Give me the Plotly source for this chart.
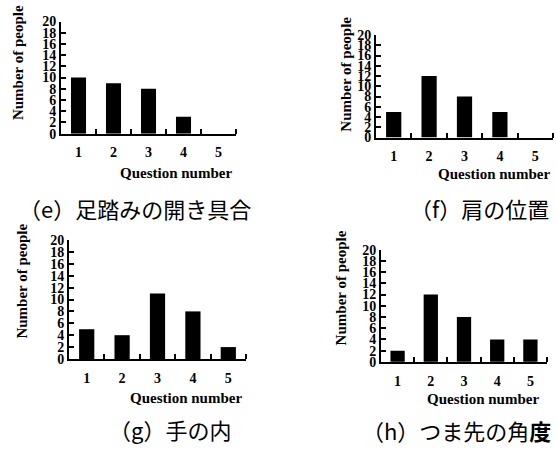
import plotly.graph_objects as go

W, H = 556, 454

questions = [1, 2, 3, 4, 5]
vals_e = [10, 9, 8, 3, 0]
vals_f = [5, 12, 8, 5, 0]
vals_g = [5, 4, 11, 8, 2]
vals_h = [2, 12, 8, 4, 4]
y_ticks = list(range(0, 21, 2))

captions = ["（e）足踏みの開き具合", "（f）肩の位置", "（g）手の内", "（h）つま先の角<b>度</b>"]
ylabel = "Number of people"
xlabel = "Question number"

# panel layout in pixels: x0, x1, ytop, ybottom
panels = [
    dict(vals=vals_e, box=(61, 236, 15, 131), ytitle=(18, 58), xtitle=(234, 172), cap=(135, 208)),
    dict(vals=vals_f, box=(376, 553, 29, 135), ytitle=(346, 70), xtitle=(552, 173), cap=(479, 208)),
    dict(vals=vals_g, box=(69, 246, 241, 364), ytitle=(22, 284), xtitle=(244, 404), cap=(170, 436)),
    dict(vals=vals_h, box=(381, 547, 251, 367), ytitle=(341, 291), xtitle=(541, 405), cap=(456, 437)),
]

serif = "Liberation Serif, Times New Roman, serif"
cjk = "Noto Sans CJK JP"

fig = go.Figure()
annotations = []
for i, p in enumerate(panels):
    n = "" if i == 0 else str(i + 1)
    x0, x1, yt, yb = p["box"]
    fig.add_trace(go.Bar(x=questions, y=p["vals"], width=0.43,
                         marker=dict(color="black", line=dict(width=0)),
                         xaxis="x" + n, yaxis="y" + n, showlegend=False))
    fig.layout["xaxis" + n] = dict(
        domain=[x0 / W, x1 / W], range=[0.5, 5.5], anchor="y" + n,
        tickvals=questions, ticktext=[str(q) for q in questions],
        ticks="", ticklabelstandoff=5,
        tickfont=dict(family=serif, size=14, color="black", weight="bold"),
        showline=True, linecolor="black", linewidth=2, showgrid=False, zeroline=False,
        minor=dict(tickvals=[1.5, 2.5, 3.5, 4.5, 5.5], ticks="inside", ticklen=5,
                   tickwidth=2, tickcolor="black", showgrid=False),
        fixedrange=True,
    )
    fig.layout["yaxis" + n] = dict(
        domain=[1 - yb / H, 1 - yt / H], range=[0, 20], anchor="x" + n,
        tickvals=y_ticks, ticks="inside", ticklen=5, tickwidth=2, tickcolor="black",
        tickfont=dict(family=serif, size=14, color="black", weight="bold"),
        showline=True, linecolor="black", linewidth=2, showgrid=False, zeroline=False,
        fixedrange=True,
    )
    tx, ty = p["ytitle"]
    annotations.append(dict(text=ylabel, x=tx / W, y=1 - ty / H, xref="paper", yref="paper",
                            showarrow=False, textangle=-90, xanchor="center", yanchor="middle",
                            font=dict(family=serif, size=15, color="black", weight="bold")))
    qx, qy = p["xtitle"]
    annotations.append(dict(text=xlabel, x=qx / W, y=1 - qy / H, xref="paper", yref="paper",
                            showarrow=False, xanchor="right", yanchor="middle",
                            font=dict(family=serif, size=15, color="black", weight="bold")))
    cx, cy = p["cap"]
    annotations.append(dict(text=captions[i], x=cx / W, y=1 - cy / H, xref="paper", yref="paper",
                            showarrow=False, xanchor="center", yanchor="middle",
                            font=dict(family=cjk, size=22, color="black")))

fig.update_layout(width=W, height=H, margin=dict(l=0, r=0, t=0, b=0),
                  paper_bgcolor="white", plot_bgcolor="white",
                  annotations=annotations, bargap=0.5)
fig.write_html("out.html", config={"displayModeBar": False},
               post_script="document.body.style.margin='0';document.body.style.overflow='hidden';")
